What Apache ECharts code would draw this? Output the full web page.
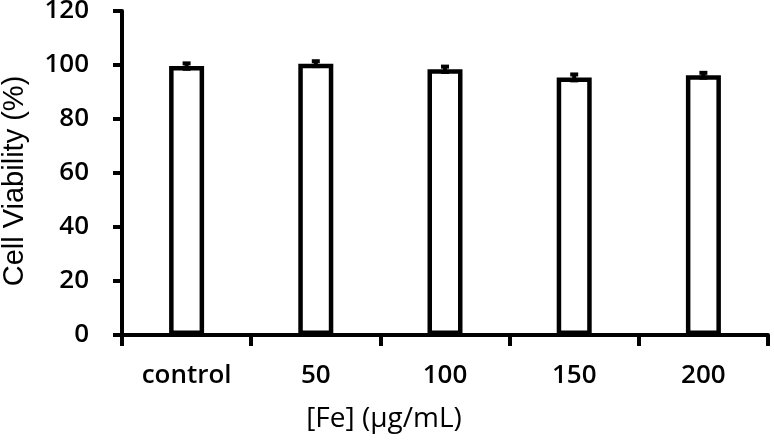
<!DOCTYPE html>
<html>
<head>
<meta charset="utf-8">
<script src="https://cdn.jsdelivr.net/npm/echarts@6/dist/echarts.min.js"></script>
<style>
html,body{margin:0;padding:0;background:#fff;}
#chart{width:774px;height:441px;}
</style>
</head>
<body>
<div id="chart"></div>
<script>
const categories = ['control', '50', '100', '150', '200'];
const viability = [99.6, 100.5, 98.4, 95.4, 96.2];
const errors = [1.0, 0.9, 1.0, 1.1, 0.9];
const yTicks = { min: 0, max: 120, interval: 20 };

const chart = echarts.init(document.getElementById('chart'), null, { renderer: 'canvas' });
const errData = viability.map((v, i) => [i, v - errors[i], v + errors[i]]);

chart.setOption({
  animation: false,
  backgroundColor: '#ffffff',
  grid: { left: 122, right: 6, top: 11, bottom: 106, containLabel: false, outerBoundsMode: 'none' },
  xAxis: {
    type: 'category',
    data: categories,
    name: '[Fe] (μg/mL)',
    nameLocation: 'middle',
    nameGap: 70,
    nameTextStyle: { fontFamily: 'Open Sans', fontSize: 28, color: '#000', padding: [0, 122, 0, 0] },
    axisLine: { lineStyle: { color: '#000', width: 4 } },
    axisTick: { show: true, inside: false, length: 11, lineStyle: { color: '#000', width: 4 }, alignWithLabel: false },
    axisLabel: { fontFamily: 'Open Sans', fontWeight: 600, fontSize: 26, color: '#000', margin: 28 },
    splitLine: { show: false }
  },
  yAxis: {
    type: 'value',
    min: yTicks.min, max: yTicks.max, interval: yTicks.interval,
    name: 'Cell Viability (%)',
    nameLocation: 'middle',
    nameGap: 93,
    nameRotate: 90,
    nameTextStyle: { fontFamily: 'Liberation Sans', fontSize: 29, color: '#000', padding: [0, 16, 0, 0] },
    axisLine: { show: true, lineStyle: { color: '#000', width: 4 } },
    axisTick: { show: true, inside: false, length: 9, lineStyle: { color: '#000', width: 4 } },
    axisLabel: { fontFamily: 'Open Sans', fontWeight: 600, fontSize: 26, color: '#000', margin: 33 },
    splitLine: { show: false }
  },
  series: [
    {
      type: 'bar',
      data: viability,
      barWidth: 35,
      itemStyle: { color: '#fff', borderColor: '#000', borderWidth: 4.5 },
      z: 2
    },
    {
      type: 'custom',
      data: errData,
      z: 3,
      renderItem: function (params, api) {
        const x = api.value(0);
        const lo = api.coord([x, api.value(1)]);
        const hi = api.coord([x, api.value(2)]);
        const hw = 4;
        const style = { stroke: '#000', lineWidth: 4, fill: null };
        return {
          type: 'group',
          children: [
            { type: 'line', shape: { x1: hi[0], y1: hi[1], x2: lo[0], y2: lo[1] }, style },
            { type: 'line', shape: { x1: hi[0] - hw, y1: hi[1], x2: hi[0] + hw, y2: hi[1] }, style },
            { type: 'line', shape: { x1: lo[0] - hw, y1: lo[1], x2: lo[0] + hw, y2: lo[1] }, style }
          ]
        };
      }
    }
  ]
});
</script>
</body>
</html>
